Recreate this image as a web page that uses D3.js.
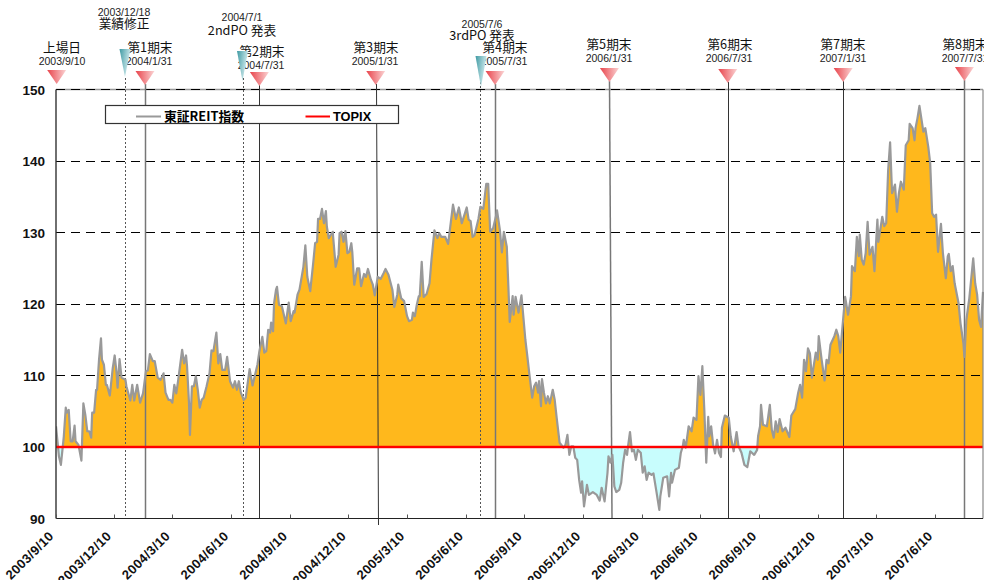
<!DOCTYPE html>
<html><head><meta charset="utf-8">
<script src="https://cdn.jsdelivr.net/npm/d3@7"></script>
<style>html,body{margin:0;background:#fff}svg{display:block}</style>
</head><body><div id="c"></div>
<script>
// Trading-day number of each reading, and the index value
const tradingDays=[0,1,3,5,8,10,11,13,15,17,19,20,23,26,28,30,32,34,36,37,39,41,42,44,46,47,49,51,52,55,58,60,62,63,65,67,71,72,76,78,80,83,86,89,92,94,96,99,101,104,107,110,112,115,117,119,121,123,125,129,131,133,134,136,137,139,141,143,145,147,149,151,154,157,159,161,164,166,168,170,173,175,178,181,183,185,187,189,192,194,198,201,206,208,211,213,215,217,
219,220,222,223,225,226,228,231,235,238,240,243,244,247,249,253,255,257,260,263,265,267,268,270,272,274,276,277,279,283,286,289,290,292,294,296,298,300,302,303,305,308,310,312,315,317,319,322,324,326,329,332,335,337,340,344,346,349,350,353,356,359,361,364,365,367,369,371,372,374,376,379,382,384,387,390,392,394,398,401,404,406,409,412,415,418,420,422,424,426,428,432,434,437,440,442,444,447,450,451,454,456,458,461,463,464,467,468,470,473,476,480,482,484,487,489,491,493,494,496,497,499,501,503,505,508,510,512,515,519,521,523,525,527,529,531,533,535,537,538,540,543,545,549,553,556,558,561,564,565,567,569,571,573,576,578,580,582,584,585,587,589,591,593,595,598,600,602,604,606,609,611,614,617,618,621,625,627,629,630,633,637,639,641,642,644,647,650,652,655,657,659,661,663,664,665,667,668,670,672,674,676,678,680,681,684,688,690,693,696,698,701,704,707,710,714,717,718,720,721,723,727,730,732,734,736,738,740,743,746,750,752,756,759,761,763,765,767,769,771,773,777,779,780,783,786,788,790,792,796,798,800,802,804,
807,810,813,814,817,819,821,822,824,826,828,830,832,835,837,840,841,845,847,849,851,853,855,858,860,862,864,867,869,872,873,876,878,879,881,883,887,889,892,894,896,898,900,902,905,907,910,912,913,915,917,919,923,925,928,929,931,934,938,940,942,944,946,948];
const indexValues=[102.9,101.5,98.7,97.5,101.5,105.5,104.8,105.2,100.8,100.8,103,100.8,100.3,98.1,106.1,104.5,102.2,102.2,101.3,104.8,104.8,108,108,112.2,115.2,112.2,111.5,108.7,108.7,107.2,111,112.8,110.3,108.3,112.3,109.7,109.4,108.5,106.5,108.7,106.5,108.7,106.2,107.5,110.6,110.7,113,112,112,109.7,109.4,110.3,107.6,106.6,106.6,106.2,108.7,107.5,109.4,113.6,111.7,112.8,111.3,106.2,101.7,108.5,108.5,109.9,108,105.5,106.6,106.9,108.5,110.3,113.5,113.4,116,111.7,113,110.8,110.8,112.6,109.2,108.3,109.2,108,109.2,107.6,106.6,106.9,110.9,108.6,111.5,113.4,115.4,113.2,113.4,116.4,
116,117.4,116.2,120.1,122,122.4,119.9,119.7,117.3,120.2,117.6,119,118.8,121.3,122,125.2,128.2,123.8,121.8,125.7,128.5,128.7,131.9,131.9,133.3,131.3,133,130.8,129.2,130.1,125.2,126.9,129.9,130.1,128.7,130.2,127.1,127.3,128.5,127.3,122.7,125,125,122.5,124.2,123.8,124.9,123.4,122.7,121.2,123.8,123.5,124.3,124.9,124.1,122,119.6,121.3,122.7,120.8,120.4,118.3,117.6,117.8,118.8,118.3,119.9,121.1,121.1,125.9,121,121.4,122.9,126.2,130.3,129.2,129.9,129.4,129.4,128.4,131.7,133.9,131.9,133.5,131.3,132.6,133.5,131.8,131.6,129.4,129.6,131.9,133.6,133.3,136.8,136.8,130.1,130.6,132.3,133.1,130.3,127.2,130.1,128,121.1,117.5,121.1,118.5,121,118.8,121.2,115,112.7,110.3,106.9,108.5,109,107.6,109.2,105.7,109.5,107.6,106.1,107.1,106.1,108,106.6,104.1,100.6,99.9,100.3,101.7,98.9,100.1,100.1,98.5,98.2,95.4,93.6,95.2,91.7,94.7,93.3,93.7,93.3,92.5,94.3,92.4,96.4,98.7,97.8,98.9,94.5,93.7,94,95,97.8,99.6,98.9,100.1,102.1,99.4,99.6,98.2,99.6,99.2,96.4,97.3,95.4,96.4,96.1,96.3,93.8,91.2,93.1,95.7,95.9,93.1,96.4,95,96.8,97.1,99.2,100.1,101,99.9,102.9,102.2,104.1,103.8,109.9,107.3,111.3,105.2,101.5,97.8,104.2,101.5,102.9,100.3,99.1,101,99.2,98.6,102.7,104.4,104.1,101.5,99.4,102.1,100.1,99.2,97.5,97.2,99.4,98.9,99.6,101.5,102.9,105.9,103.1,102.9,105.9,102.4,101.3,103.6,102.1,103.9,102.2,102.7,101.4,104.4,105.3,107.6,108.7,106.9,112.2,110.6,113.8,113.1,109.7,113.2,112.2,115.5,112.2,109.3,112.2,111.7,114.3,115.5,116.4,115.5,113.2,116.4,
121,118.5,121.1,125.3,124.6,129.4,126.7,129.7,126.2,125.5,127.1,131.5,126.9,128,124.6,131.8,128.7,132.2,130.9,131.3,138.7,142.6,135.5,136.7,132.9,135.5,137.1,136,142.2,142.9,145.2,144.6,142.9,144.6,146,147.7,144.1,144.6,142,139.7,132.7,132.2,132.5,127.3,131.2,127.1,123.6,126.7,127,124.6,125.3,122.9,120.1,117.3,114.5,112.6,117.8,120.8,126.4,122.9,121.3,117.8,116.8,121.7];

const tickLabels=["2003/9/10","2003/12/10","2004/3/10","2004/6/10","2004/9/10","2004/12/10","2005/3/10","2005/6/10","2005/9/10","2005/12/10","2006/3/10","2006/6/10","2006/9/10","2006/12/10","2007/3/10","2007/6/10"];
const tickDays=[0,59,119,179,239,299,359,419,479,539,599,659,719,779,839,899];
const yTicks=[90,100,110,120,130,140,150];
const gridValues=[110,120,130,140,150];
const topixBase=100;

const periodNames=["上場日","第1期末","第2期末","第3期末","第4期末","第5期末","第6期末","第7期末","第8期末"];
const periodDates=["2003/9/10","2004/1/31","2004/7/31","2005/1/31","2005/7/31","2006/1/31","2006/7/31","2007/1/31","2007/7/31"];
const periodDays=[0,91,208,327,449,566,687,805,929];
const eventNames=["業績修正","2ndPO 発表","3rdPO 発表"];
const eventDates=["2003/12/18","2004/7/1","2005/7/6"];
const eventDays=[71,191,434];

// layout of the annotation marks (not data)
const perTop=[70,71,72,71,71,68,69,68,67];
const perNameX=[62,150,262,376,505,609,730,843,965];
const perDateX=[62,149,261,375,504,609,729,843,965];
const perNameY=[52,52,56,52,52,49,49,49,49];
const perDateY=[65,65,69,65,65,62,62,62,62];
const perLineEnd=[0,518,518,525,518,518,518,518,518];
const perLineDrift=[0,0,0,2,0,2.5,0,0,0];
const perLineGrey=[false,true,false,false,true,true,false,false,true];
const evTop=[49,51,56],evH=[28,30,31],evW=[11,11,11];
const evCx=[125,242.5,481];
const evDateX=[124,242,482],evDateY=[16,21,28],evNameX=[124,242,482],evNameY=[28,35,40];

const W=984,H=580,L=56,R=983,T=89.5,B=518.5;
const x=d3.scaleLinear().domain([0,948]).range([L,R]);
const y=d3.scaleLinear().domain([90,150]).range([B,T]);
const data=tradingDays.map((d,i)=>({d,v:indexValues[i]}));
const font='"Liberation Sans",Arial,sans-serif';
const jp='"Noto Sans CJK JP","Liberation Sans",sans-serif';

const svg=d3.select("#c").append("svg").attr("width",W).attr("height",H);
const defs=svg.append("defs");
const gr=defs.append("linearGradient").attr("id","red");
gr.append("stop").attr("offset","0").attr("stop-color","#e8434b");
gr.append("stop").attr("offset","1").attr("stop-color","#fbd4d4");
const gt=defs.append("linearGradient").attr("id","teal").attr("x1",0).attr("y1",0).attr("x2",1).attr("y2",.4);
gt.append("stop").attr("offset","0").attr("stop-color","#3f9aa3");
gt.append("stop").attr("offset","1").attr("stop-color","#d6eef0");
defs.append("clipPath").attr("id","above").append("rect").attr("x",L).attr("y",T).attr("width",R-L).attr("height",y(100)-T);
defs.append("clipPath").attr("id","below").append("rect").attr("x",L).attr("y",y(100)).attr("width",R-L).attr("height",B-y(100));
defs.append("clipPath").attr("id","plot").append("rect").attr("x",L).attr("y",T).attr("width",R-L+1).attr("height",B-T);

const area=d3.area().x(d=>x(d.d)).y0(y(topixBase)).y1(d=>y(d.v));
svg.append("path").datum(data).attr("d",area).attr("fill","#ffb81c").attr("clip-path","url(#above)");
svg.append("path").datum(data).attr("d",area).attr("fill","#c8fdfd").attr("clip-path","url(#below)");

svg.append("line").attr("x1",L).attr("x2",R).attr("y1",T).attr("y2",T).attr("stroke","#999").attr("stroke-width",1.4);
svg.append("g").attr("stroke","#000").attr("stroke-width",1).attr("stroke-dasharray","9 6")
 .selectAll("line").data(gridValues).join("line")
 .attr("x1",L).attr("x2",R).attr("y1",d=>Math.floor(y(d))+.5).attr("y2",d=>Math.floor(y(d))+.5);

// period-end lines
svg.append("g").selectAll("line").data(periodDays.slice(1)).join("line")
 .attr("x1",d=>Math.round(x(d))+.5)
 .attr("x2",(d,i)=>Math.round(x(d))+.5+perLineDrift[i+1])
 .attr("y1",(d,i)=>perTop[i+1]+13).attr("y2",(d,i)=>perLineEnd[i+1])
 .attr("stroke",(d,i)=>perLineGrey[i+1]?"#777":"#333").attr("stroke-width",(d,i)=>perLineGrey[i+1]?1.5:1);
// event lines
svg.append("g").selectAll("line").data(eventDays).join("line")
 .attr("x1",d=>Math.round(x(d))+.5).attr("x2",d=>Math.round(x(d))+.5).attr("y1",78).attr("y2",516)
 .attr("stroke","#555").attr("stroke-width",1).attr("stroke-dasharray","2 2");

// index line
svg.append("path").datum(data).attr("clip-path","url(#plot)")
 .attr("d",d3.line().x(d=>x(d.d)).y(d=>y(d.v))).attr("fill","none").attr("stroke","#999").attr("stroke-width",2.2).attr("stroke-linejoin","round");
// TOPIX
const y100=y(topixBase);
svg.append("line").attr("x1",L).attr("x2",R).attr("y1",y100).attr("y2",y100).attr("stroke","#ff0000").attr("stroke-opacity",.3).attr("stroke-width",3.5);
svg.append("line").attr("x1",L).attr("x2",R).attr("y1",y100).attr("y2",y100).attr("stroke","#ff0000").attr("stroke-width",1.8);

// axes
svg.append("line").attr("x1",L).attr("x2",L).attr("y1",T).attr("y2",B).attr("stroke","#333").attr("stroke-width",1.4);
svg.append("line").attr("x1",R).attr("x2",R).attr("y1",T).attr("y2",B).attr("stroke","#888").attr("stroke-width",1.2);
svg.append("line").attr("x1",L).attr("x2",R).attr("y1",B).attr("y2",B).attr("stroke","#222").attr("stroke-width",1.2);
svg.append("g").selectAll("line").data(tickDays).join("line")
 .attr("x1",d=>Math.round(x(d))+.5).attr("x2",d=>Math.round(x(d))+.5).attr("y1",B-4).attr("y2",B).attr("stroke","#555");
svg.append("g").selectAll("text").data(yTicks).join("text")
 .attr("x",45).attr("y",d=>y(d)+5).attr("text-anchor","end").attr("font-family",font).attr("font-weight","bold").attr("font-size",13.5).attr("fill","#111").text(d=>d);
svg.append("g").selectAll("text").data(tickDays).join("text")
 .attr("transform",d=>`translate(${x(d)-4},${B+16}) rotate(-45)`)
 .attr("text-anchor","end").attr("dominant-baseline","middle").attr("font-family",font).attr("font-weight","bold").attr("font-size",13).attr("letter-spacing",".4").attr("fill","#111")
 .text((d,i)=>tickLabels[i]);

// markers
const tri=(cx,top,w,h)=>`M${cx-w/2},${top}L${cx+w/2},${top}L${cx},${top+h}Z`;
periodDays.forEach((d,i)=>{
 const cx=x(d)+(i==0?0.7:0);
 svg.append("path").attr("d",tri(cx,perTop[i],19,14)).attr("fill","url(#red)");
 svg.append("text").attr("x",perDateX[i]).attr("y",perDateY[i]).attr("text-anchor","middle").attr("font-family",font).attr("font-size",10.5).attr("fill","#222").text(periodDates[i]);
 svg.append("text").attr("x",perNameX[i]).attr("y",perNameY[i]).attr("text-anchor","middle").attr("font-family",jp).attr("font-size",12.7).attr("fill","#111").text(periodNames[i]);
});
eventDays.forEach((d,i)=>{
 svg.append("path").attr("d",tri(evCx[i],evTop[i],evW[i],evH[i])).attr("fill","url(#teal)");
 svg.append("text").attr("x",evDateX[i]).attr("y",evDateY[i]).attr("text-anchor","middle").attr("font-family",font).attr("font-size",10.5).attr("fill","#222").text(eventDates[i]);
 svg.append("text").attr("x",evNameX[i]).attr("y",evNameY[i]).attr("text-anchor","middle").attr("font-family",jp).attr("font-size",12.7).attr("fill","#111").text(eventNames[i]);
});

// legend
svg.append("rect").attr("x",105.5).attr("y",105.5).attr("width",293).attr("height",18).attr("fill","#fff").attr("stroke","#333").attr("stroke-width",1.2);
svg.append("line").attr("x1",136).attr("x2",161).attr("y1",116.5).attr("y2",116.5).attr("stroke","#999").attr("stroke-width",2);
svg.append("text").attr("x",164).attr("y",120.5).attr("font-family",jp).attr("font-weight","bold").attr("font-size",12.8).attr("fill","#000").text("東証REIT指数");
svg.append("line").attr("x1",305.5).attr("x2",330).attr("y1",116.5).attr("y2",116.5).attr("stroke","#f00").attr("stroke-width",2);
svg.append("text").attr("x",333).attr("y",120.5).attr("font-family",font).attr("font-weight","bold").attr("font-size",12.8).attr("fill","#000").text("TOPIX");
</script></body></html>
